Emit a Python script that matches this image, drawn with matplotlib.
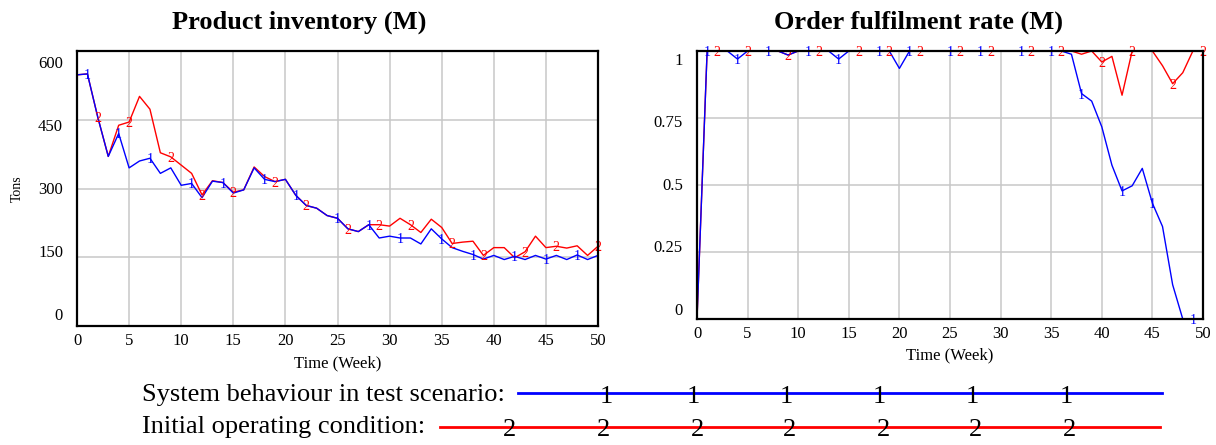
import matplotlib
matplotlib.use("Agg")
import matplotlib.pyplot as plt
from matplotlib.transforms import offset_copy

plt.rcParams['font.family'] = 'Liberation Serif'

weeks = list(range(51))

# product inventory (tons), test scenario (1) and initial condition (2)
inv_test = [548, 550, 455, 370, 420, 345, 360, 366, 333, 345,
            307, 311, 280, 316, 313, 290, 297, 345, 320, 315,
            320, 285, 263, 257, 241, 235, 212, 206, 221, 192,
            196, 192, 192, 179, 212, 190, 171, 163, 156, 146,
            154, 145, 152, 145, 154, 146, 154, 145, 155, 145, 154]
inv_init = [548, 550, 455, 370, 438, 445, 501, 473, 378, 369,
            351, 333, 286, 317, 313, 292, 297, 347, 326, 315,
            320, 285, 263, 257, 241, 235, 212, 206, 221, 221,
            218, 235, 221, 204, 233, 215, 180, 183, 185, 154,
            171, 171, 149, 162, 196, 171, 174, 170, 175, 154, 174]

# order fulfilment rate
ful_test = [0, 1, 1, 1, 0.97, 1, 1, 1, 1, 0.985,
            1, 1, 1, 1, 0.97, 1, 1, 1, 1, 1,
            0.935, 1, 1, 1, 1, 1, 1, 1, 1, 1,
            1, 1, 1, 1, 1, 1, 1, 0.988, 0.841, 0.813,
            0.717, 0.574, 0.478, 0.497, 0.562, 0.432, 0.345, 0.128, 0, 0, 0]
ful_init = [0, 1, 1, 1, 1, 1, 1, 1, 1, 0.985,
            1, 1, 1, 1, 1, 1, 1, 1, 1, 1,
            1, 1, 1, 1, 1, 1, 1, 1, 1, 1,
            1, 1, 1, 1, 1, 1, 1, 1, 0.988, 1,
            0.959, 0.98, 0.835, 1, 1, 1, 0.945, 0.878, 0.919, 1, 1]

# weeks where the series number is written on the line
inv_test_marks = [1, 4, 7, 11, 14, 18, 21, 25, 28, 31, 35, 38, 42, 45, 48]
inv_init_marks = [2, 5, 9, 12, 15, 19, 22, 26, 29, 32, 36, 39, 43, 46, 50]
ful_test_marks = [1, 4, 7, 11, 14, 18, 21, 25, 28, 32, 35, 38, 42, 45, 49]
ful_init_marks = [2, 5, 9, 12, 16, 19, 22, 26, 29, 33, 36, 40, 43, 47, 50]

inv_ticks = [0, 150, 300, 450, 600]
inv_ticklabels = ['0', '150', '300', '450', '600']
ful_ticks = [0, 0.25, 0.5, 0.75, 1]
ful_ticklabels = ['0', '0.25', '0.5', '0.75', '1']

legend_labels = ['System behaviour in test scenario:', 'Initial operating condition:']

BLUE = '#0000ff'
RED = '#ff0000'
W, H = 1216, 445

fig = plt.figure(figsize=(W / 100, H / 100), dpi=100)


def px_axes(x0, y0, x1, y1):
    return fig.add_axes([x0 / W, 1 - y1 / H, (x1 - x0) / W, (y1 - y0) / H])


def style(ax, ticks, ticklabels, lab_lo, lab_hi):
    ax.set_xlim(0, 50)
    ax.set_ylim(ticks[0], ticks[-1])
    ax.set_xticks(range(0, 51, 5))
    ax.set_yticks(ticks)
    ax.set_yticklabels([])
    ax.tick_params(length=0, labelsize=12, pad=5)
    ax.grid(color='#c8c8c8', lw=1.1)
    ax.set_axisbelow(True)
    for s in ax.spines.values():
        s.set_linewidth(1.6)
        s.set_color('black')
    # vensim squeezes the y labels a bit towards the middle
    tr = offset_copy(ax.transAxes, fig=fig, x=-14, y=0, units='dots')
    for v, lbl in zip(ticks, ticklabels):
        frac = (v - ticks[0]) / (ticks[-1] - ticks[0])
        ax.text(0, lab_lo + frac * (lab_hi - lab_lo), lbl, transform=tr,
                ha='right', va='center', fontsize=12)


def draw(ax, test, init, test_marks, init_marks):
    ax.plot(weeks, init, color=RED, lw=1.0, zorder=2)
    ax.plot(weeks, test, color=BLUE, lw=1.0, zorder=2.1)
    tr = offset_copy(ax.transData, fig=fig, x=0, y=-1.5, units='dots')
    for w in init_marks:
        ax.text(w, init[w], '2', color=RED, fontsize=10, ha='center', va='center',
                transform=tr, zorder=2.2, clip_on=False)
    for w in test_marks:
        ax.text(w, test[w], '1', color=BLUE, fontsize=10, ha='center', va='center',
                transform=tr, zorder=2.3, clip_on=False)


ax1 = px_axes(77, 51, 598, 326)
style(ax1, inv_ticks, inv_ticklabels, 0.036, 0.952)
draw(ax1, inv_test, inv_init, inv_test_marks, inv_init_marks)
ax1.text(0.5, -37 / 275, 'Time (Week)', transform=ax1.transAxes,
         ha='center', va='center', fontsize=12)
ax1.text(-60 / 521, 0.5, 'Tons', transform=ax1.transAxes, rotation=90,
         ha='center', va='center', fontsize=10)

ax2 = px_axes(697, 51, 1203, 319)
style(ax2, ful_ticks, ful_ticklabels, 0.030, 0.963)
draw(ax2, ful_test, ful_init, ful_test_marks, ful_init_marks)
ax2.text(0.5, -36 / 268, 'Time (Week)', transform=ax2.transAxes,
         ha='center', va='center', fontsize=12)

fig.text(299 / W, 1 - 22 / H, 'Product inventory (M)', ha='center', va='center',
         fontsize=19, fontweight='bold')
fig.text(918 / W, 1 - 22 / H, 'Order fulfilment rate (M)', ha='center', va='center',
         fontsize=19, fontweight='bold')

# legend drawn on an overlay in pixel units
leg = fig.add_axes([0, 0, 1, 1])
leg.set_xlim(0, W)
leg.set_ylim(H, 0)
leg.axis('off')
leg.text(142, 395, legend_labels[0], ha='left', va='center', fontsize=19)
leg.text(142, 427, legend_labels[1], ha='left', va='center', fontsize=19)
leg.plot([518, 1162], [393, 393], color=BLUE, lw=2)
leg.plot([440, 1160], [427, 427], color=RED, lw=2)
for x in [606, 693, 786, 879, 972, 1066]:
    leg.text(x, 397, '1', ha='center', va='center', fontsize=19)
for x in [510, 603, 697, 790, 883, 976, 1069]:
    leg.text(x, 430, '2', ha='center', va='center', fontsize=19)

fig.savefig('out.png', dpi=100)
